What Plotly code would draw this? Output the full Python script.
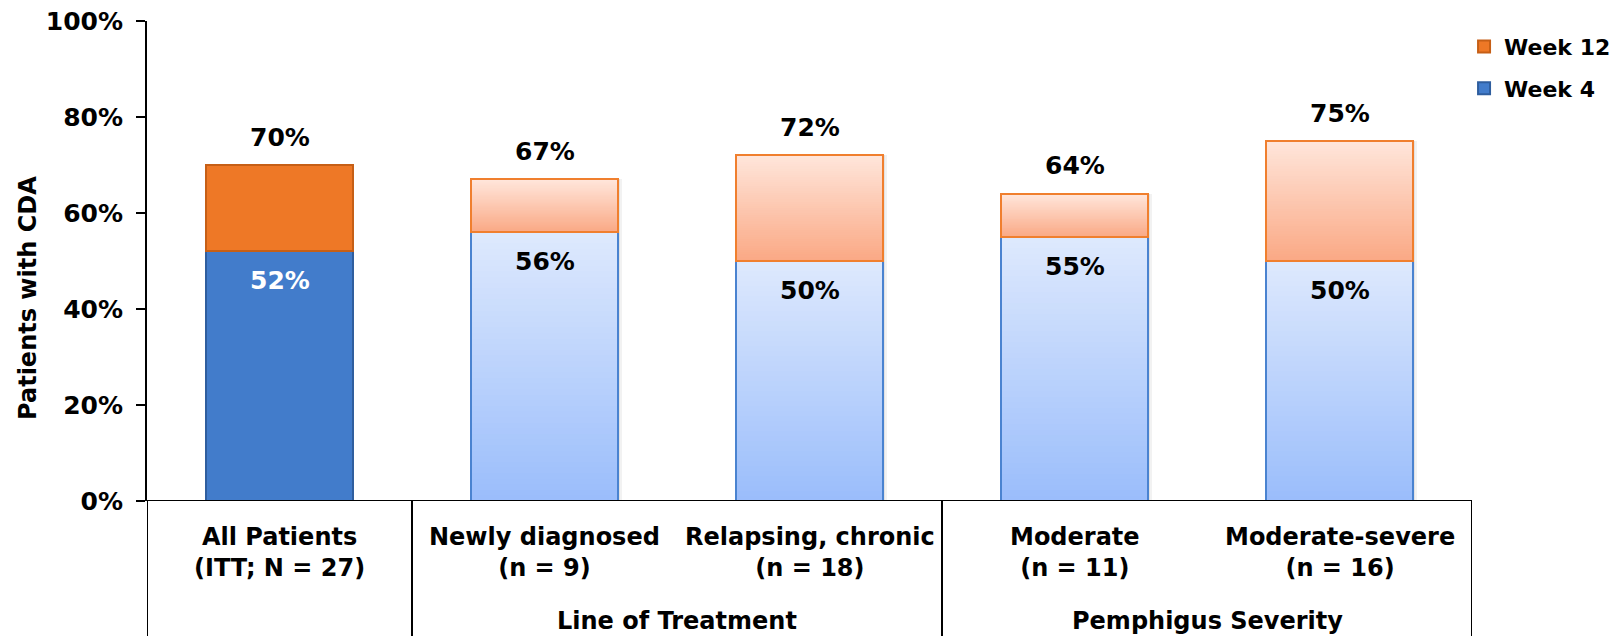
import numpy as np
import plotly.graph_objects as go

# Complete disease activity (CDA) by subgroup: cumulative share at week 4 and week 12
categories = ["All Patients<br>(ITT; N = 27)", "Newly diagnosed<br>(n = 9)",
              "Relapsing, chronic<br>(n = 18)", "Moderate<br>(n = 11)",
              "Moderate-severe<br>(n = 16)"]
week4 = [52, 56, 50, 55, 50]
week12 = [70, 67, 72, 64, 75]
groups = ["Line of Treatment", "Pemphigus Severity"]
group_members = [[1, 2], [3, 4]]
y_ticks = [0, 20, 40, 60, 80, 100]

FONT = "DejaVu Sans"
BAR_W = 0.555
N_SLICES = 48

BLUE = "#427CCB"
BLUE_EDGE = "#2F5E9E"
ORANGE = "#EE7826"
ORANGE_EDGE = "#C65F16"
BLUE_LIGHT_EDGE = "#4A83D0"
ORANGE_LIGHT_EDGE = "#F07F2E"
BLUE_GRAD = ((0x9A, 0xBD, 0xFB), (0xDE, 0xE9, 0xFD))     # bottom -> top
ORANGE_GRAD = ((0xFA, 0xA8, 0x84), (0xFF, 0xE6, 0xDB))   # bottom -> top

x = np.arange(len(categories))
sub = x[1:]


def bold(size, color="black"):
    return dict(size=size, color=color, family=FONT, weight="bold")


def mix(c0, c1, t):
    r, g, b = (round(a + (bb - a) * t) for a, bb in zip(c0, c1))
    return f"rgb({r},{g},{b})"


fig = go.Figure()

# Solid stack for the full ITT population (also provides the legend entries)
fig.add_trace(go.Bar(x=[x[0]], y=[week4[0]], base=[0], width=BAR_W, name="Week 4",
                     marker=dict(color=BLUE, line=dict(color=BLUE_EDGE, width=2)),
                     legendrank=2, legendgroup="w4", hoverinfo="skip"))
fig.add_trace(go.Bar(x=[x[0]], y=[week12[0] - week4[0]], base=[week4[0]], width=BAR_W,
                     name="Week 12",
                     marker=dict(color=ORANGE, line=dict(color=ORANGE_EDGE, width=2)),
                     legendrank=1, legendgroup="w12", hoverinfo="skip"))

w4_sub = np.array(week4[1:], dtype=float)
w12_sub = np.array(week12[1:], dtype=float)

# Soft drop shadow on the right side of the subgroup stacks
for shift, alpha in [(0.016, 0.05), (0.009, 0.06), (0.004, 0.07)]:
    fig.add_trace(go.Bar(x=sub, y=w12_sub, base=np.zeros_like(w12_sub), width=BAR_W,
                         offset=-BAR_W / 2 + shift,
                         marker=dict(color=f"rgba(0,0,0,{alpha})", line=dict(width=0)),
                         showlegend=False, hoverinfo="skip"))

# Gradient-filled stacks for the subgroups, built from thin horizontal slices
segments = [
    (np.zeros_like(w4_sub), w4_sub, BLUE_GRAD),
    (w4_sub, w12_sub - w4_sub, ORANGE_GRAD),
]
for lo, h, grad in segments:
    step = h / N_SLICES
    for i in range(N_SLICES):
        t = (i + 0.5) / N_SLICES
        fig.add_trace(go.Bar(x=sub, y=step * 1.02, base=lo + step * i, width=BAR_W,
                             marker=dict(color=mix(grad[0], grad[1], t), line=dict(width=0)),
                             showlegend=False, hoverinfo="skip"))

# Outlines of the subgroup segments
fig.add_trace(go.Bar(x=sub, y=w4_sub, base=np.zeros_like(w4_sub), width=BAR_W,
                     marker=dict(color="rgba(0,0,0,0)", line=dict(color=BLUE_LIGHT_EDGE, width=2)),
                     showlegend=False, hoverinfo="skip"))
fig.add_trace(go.Bar(x=sub, y=w12_sub - w4_sub, base=w4_sub, width=BAR_W,
                     marker=dict(color="rgba(0,0,0,0)", line=dict(color=ORANGE_LIGHT_EDGE, width=2)),
                     showlegend=False, hoverinfo="skip"))

annotations = []
# Value labels: total above each stack, week-4 value inside the lower segment
for i in range(len(categories)):
    annotations.append(dict(x=x[i], y=week12[i], text=f"{week12[i]}%", showarrow=False,
                            yshift=28, font=bold(25)))
    annotations.append(dict(x=x[i], y=week4[i], text=f"{week4[i]}%", showarrow=False,
                            yshift=-29, font=bold(25, "white" if i == 0 else "black")))

# Category labels under the axis
for i, cat in enumerate(categories):
    annotations.append(dict(x=x[i], y=-0.108, xref="x", yref="paper", text=cat,
                            showarrow=False, yanchor="middle", font=bold(24)))
# Group labels
for name, members in zip(groups, group_members):
    annotations.append(dict(x=float(np.mean(members)), y=-0.25, xref="x", yref="paper",
                            text=name, showarrow=False, yanchor="middle", font=bold(24)))
# Y-axis title
annotations.append(dict(x=-0.0898, y=0.423, xref="paper", yref="paper",
                        text="Patients with CDA", textangle=-90, showarrow=False,
                        xanchor="center", yanchor="middle", font=bold(24)))

# Table lines below the axis: outer edges and group separators
shapes = []
bottom = -0.3
n = len(categories)
boundaries = [-0.5] + [m[0] - 0.5 for m in group_members] + [n - 0.5]
for b in boundaries:
    shapes.append(dict(type="line", xref="x", yref="paper", x0=b, x1=b, y0=0, y1=bottom,
                       line=dict(color="black", width=2)))
shapes.append(dict(type="line", xref="x", yref="y", x0=-0.5, x1=n - 0.5, y0=0, y1=0,
                   line=dict(color="black", width=2)))

fig.update_layout(
    width=1624, height=636,
    margin=dict(l=147, r=152, t=21, b=135, autoexpand=False),
    paper_bgcolor="white", plot_bgcolor="white",
    barmode="overlay",
    font=dict(family=FONT, color="black"),
    showlegend=True,
    legend=dict(x=0.994, y=0.99, xanchor="left", yanchor="top",
                traceorder="grouped", tracegroupgap=10, itemwidth=30,
                font=bold(22),
                bgcolor="rgba(0,0,0,0)"),
    xaxis=dict(range=[-0.5, n - 0.5], showticklabels=False, showgrid=False,
               zeroline=False, showline=False, ticks="", fixedrange=True,
               automargin=False),
    yaxis=dict(range=[0, 100], tickvals=y_ticks, ticktext=[f"{v}%" for v in y_ticks],
               showgrid=False, zeroline=False, showline=True, linecolor="black",
               linewidth=2, ticks="outside", ticklen=9, tickwidth=2, tickcolor="black",
               ticklabelstandoff=8, tickfont=bold(25), fixedrange=True,
               automargin=False),
    annotations=annotations,
    shapes=shapes,
    bargap=0,
)

fig.write_html("out.html", config={"displayModeBar": False})
